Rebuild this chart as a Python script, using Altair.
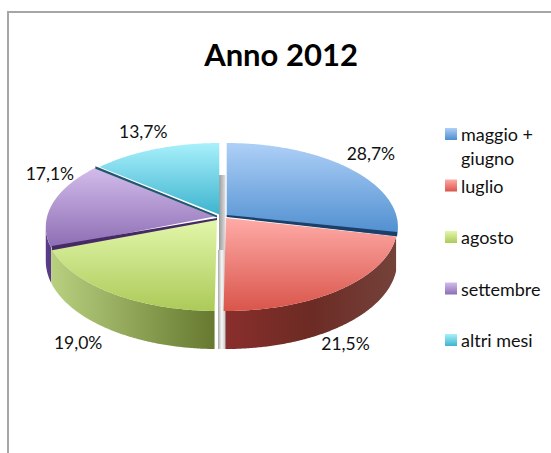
import math
import altair as alt
import pandas as pd

# Share of each period in 2012
categories = ["maggio +\ngiugno", "luglio", "agosto", "settembre", "altri mesi"]
shares = [28.7, 21.5, 19.0, 17.1, 13.7]
share_labels = ["28,7%", "21,5%", "19,0%", "17,1%", "13,7%"]

# Slice colours: top face light/dark, side face left/middle/right
top_light = ["#aed0f7", "#ffaba7", "#e3f7ac", "#d3bdec", "#a9f0fb"]
top_dark = ["#4d8dcf", "#d9554b", "#acca58", "#8d6db3", "#3db4cf"]
side_left = ["#2a5a90", "#8a2e2c", "#b9d080", "#5c3c8a", "#2a8aa0"]
side_mid = [None, "#6c2b24", None, None, None]
side_right = ["#2a5a90", "#74423a", "#66792f", "#543a85", "#2a8aa0"]
edge_dark = ["#1c3f68", None, "#452a66", "#1f5a6c", None]

# Perspective model of the tilted disc
RADIUS, MINOR, TILT, THICK = 170.0, 82.8, 0.119, 33.5
RIM_Y = 217.0
slice_x = [226.7, 226.0, 217.0, 217.0, 219.3]
apex_y = [215.5, 218.0, 218.5, 216.0, 214.5]


def rim(deg, cx, drop=0.0):
    t = math.radians(deg)
    u, v = math.sin(t), math.cos(t)
    s = 1.0 / (1.0 + TILT * v)
    return [cx + RADIUS * u * s, RIM_Y - MINOR * v * s + drop * s]


def arc(a, b, cx, drop=0.0):
    n = max(2, int(abs(b - a)) * 2)
    return [rim(a + (b - a) * i / n, cx, drop) for i in range(n + 1)]


def polygon(points):
    ring = [list(p) for p in points] + [list(points[0])]
    return {
        "type": "Feature",
        "properties": {},
        "geometry": {"type": "Polygon", "coordinates": [ring]},
    }


def ramp(c0, c1, horizontal=False, mid=None):
    stops = [alt.GradientStop(color=c0, offset=0)]
    if mid:
        stops.append(alt.GradientStop(color=mid, offset=0.5))
    stops.append(alt.GradientStop(color=c1, offset=1))
    return alt.LinearGradient(
        gradient="linear", stops=stops,
        x1=0, y1=0, x2=1 if horizontal else 0, y2=0 if horizontal else 1,
    )


def shape(points, fill):
    return (
        alt.Chart(alt.Data(values=[polygon(points)]))
        .mark_geoshape(fill=fill, strokeWidth=0)
        .project(type="identity", scale=1, translate=[0, 0])
    )


# Angular extent of every slice, clockwise from twelve o'clock
starts, ends, running = [], [], 0.0
for value in shares:
    starts.append(running * 3.6)
    running += value
    ends.append(running * 3.6)

layers = []

# Chart frame, open on the right and at the bottom
frame = pd.DataFrame({"x": [8, 8, 551], "y": [453, 12, 12], "step": [0, 1, 2]})
layers.append(
    alt.Chart(frame).mark_line(color="#a6a6a6", strokeWidth=2)
    .encode(x=alt.X("x:Q", scale=None), y=alt.Y("y:Q", scale=None),
            order=alt.Order("step:Q"))
)

# Side walls of the slices facing the viewer, back to front
for i in [3, 1, 2]:
    a, b = starts[i], ends[i]
    if i == 3:
        b = a + 14.0  # the rest of this wall turns away behind the top face
    wall = arc(a, b, slice_x[i]) + arc(b, a, slice_x[i], THICK)
    layers.append(shape(wall, ramp(side_left[i], side_right[i], True, mid=side_mid[i])))

# Seam between the two halves of the disc
layers.append(shape([[219, 175], [225.5, 175], [225.5, 252], [219, 252]],
                    ramp("#9a9a9a", "#e0e0e0", True)))
layers.append(shape([[218, 250], [225.5, 250], [225.5, 349], [218, 349]],
                    ramp("#a8a8a8", "#c4c4c4", True, mid="#f8f8f8")))

# Top faces
for i in [4, 3, 0, 2, 1]:
    top = [[slice_x[i], apex_y[i]]] + arc(starts[i], ends[i], slice_x[i])
    layers.append(shape(top, ramp(top_light[i], top_dark[i])))

# Dark cut edges where one slice stands above its neighbour
for i, colour in enumerate(edge_dark):
    if colour:
        ex, ey = rim(ends[i] - 1.0, slice_x[i])
        ax, ay = slice_x[i], apex_y[i]
        lift = 1.5 if i == 3 else 3.2
        layers.append(shape([[ax, ay - 0.6], [ex, ey - lift], [ex, ey + 1.0], [ax, ay + 1.6]], colour))

# Legend swatches
swatch_x = 445
for i in range(5):
    y0 = 128 + 51.5 * i
    layers.append(shape([[swatch_x, y0], [swatch_x + 12, y0],
                         [swatch_x + 12, y0 + 12], [swatch_x, y0 + 12]],
                        ramp(top_light[i], top_dark[i])))

# Legend text
legend_rows = pd.DataFrame({
    "label": categories,
    "x": [461] * 5,
    "y": [141, 193, 244, 296, 347],
})
layers.append(
    alt.Chart(legend_rows)
    .mark_text(font="Lato", fontSize=18, align="left", baseline="alphabetic",
               lineBreak="\n", lineHeight=24, color="#111111")
    .encode(x=alt.X("x:Q", scale=None), y=alt.Y("y:Q", scale=None), text="label:N")
)

# Value labels, placed outside the rim next to the middle of each slice
nudge = [(20, -14), (4, 22), (-31, 18), (-3, -28), (-12, -16)]
mids = [(s + e) / 2 for s, e in zip(starts, ends)]
label_xy = []
for i, mid in enumerate(mids):
    px, py = rim(mid, slice_x[i])
    drop = THICK if 90 < mid < 270 else 0
    label_xy.append((px + nudge[i][0], py + drop + nudge[i][1]))
value_rows = pd.DataFrame({
    "label": share_labels,
    "x": [p[0] for p in label_xy],
    "y": [p[1] for p in label_xy],
})
layers.append(
    alt.Chart(value_rows)
    .mark_text(font="Lato", fontSize=17.5, align="center", baseline="middle", color="#111111")
    .encode(x=alt.X("x:Q", scale=None), y=alt.Y("y:Q", scale=None), text="label:N")
)

# Title
layers.append(
    alt.Chart(pd.DataFrame({"label": ["Anno 2012"], "x": [281], "y": [57]}))
    .mark_text(font="Lato", fontSize=31, fontWeight="bold", align="center",
               baseline="middle", color="#000000")
    .encode(x=alt.X("x:Q", scale=None), y=alt.Y("y:Q", scale=None), text="label:N")
)

chart = (
    alt.layer(*layers)
    .properties(width=551, height=453, padding=0, autosize=alt.AutoSizeParams(type="none"),
                background="white")
    .configure_view(stroke=None)
)

chart.save("out.html", embed_options={"renderer": "svg", "actions": False})
